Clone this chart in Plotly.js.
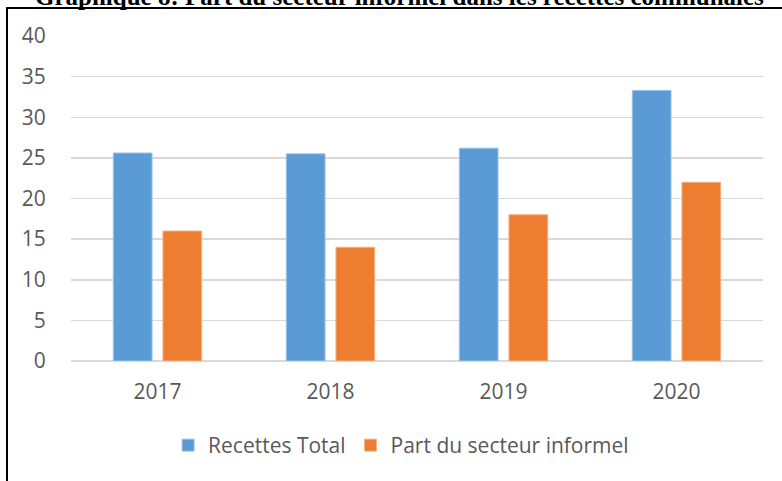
<!DOCTYPE html>
<html>
<head>
<meta charset="utf-8">
<script src="https://cdn.plot.ly/plotly-3.0.1.min.js"></script>
<style>
html,body{margin:0;padding:0;background:#fff;}
#chart{width:782px;height:481px;position:absolute;left:0;top:0;}
#frame{position:absolute;left:6px;top:7px;width:800px;height:500px;border-left:2px solid #000;border-top:2px solid #000;pointer-events:none;}
</style>
</head>
<body>
<div id="chart"></div>
<div id="frame"></div>
<script>
const years = ['2017', '2018', '2019', '2020'];
const recettesTotal = [25.6, 25.5, 26.2, 33.3];
const partInformel = [16.0, 14.0, 18.0, 22.0];
const seriesNames = ['Recettes Total', 'Part du secteur informel'];
const titleText = 'Graphique 8: Part du secteur informel dans les recettes communales';

const data = [
  {type:'bar', x: years, y: recettesTotal, name: seriesNames[0],
   marker:{color:'#5B9BD5', line:{color:'#9DC3E6', width:1}}},
  {type:'bar', x: years, y: partInformel, name: seriesNames[1],
   marker:{color:'#ED7D31', line:{color:'#F4B183', width:1}}}
];

const layout = {
  width:782, height:481,
  margin:{l:71, r:19, t:36, b:120},
  paper_bgcolor:'#fff', plot_bgcolor:'#fff',
  barmode:'group', bargap:0.426, bargroupgap:0.22,
  font:{family:'Open Sans, sans-serif', color:'#595959', size:21},
  annotations:[{text:'<b>'+titleText+'</b>', xref:'paper', yref:'paper', x:0.475, xanchor:'center',
    y:1+24/325, yanchor:'bottom', showarrow:false,
    font:{family:'Liberation Serif, Times New Roman, serif', size:25, color:'#000'}}],
  xaxis:{type:'category', showgrid:false, showline:false, zeroline:false,
         ticks:'outside', ticklen:12, tickcolor:'rgba(0,0,0,0)', tickfont:{size:21, color:'#595959'}},
  yaxis:{range:[0,40], dtick:5, showgrid:true, gridcolor:'#D9D9D9', gridwidth:1.5,
         zeroline:true, zerolinecolor:'#D9D9D9', zerolinewidth:1.5, showline:false,
         ticks:'outside', ticklen:20, tickcolor:'rgba(0,0,0,0)', tickfont:{size:21, color:'#595959'}},
  showlegend:true,
  legend:{orientation:'h', x:0.477, xanchor:'center', y:-0.26, yanchor:'middle',
          font:{size:21, color:'#595959'}, itemwidth:30, traceorder:'normal'}
};

Plotly.newPlot('chart', data, layout, {displayModeBar:false, staticPlot:true});
</script>
</body>
</html>
